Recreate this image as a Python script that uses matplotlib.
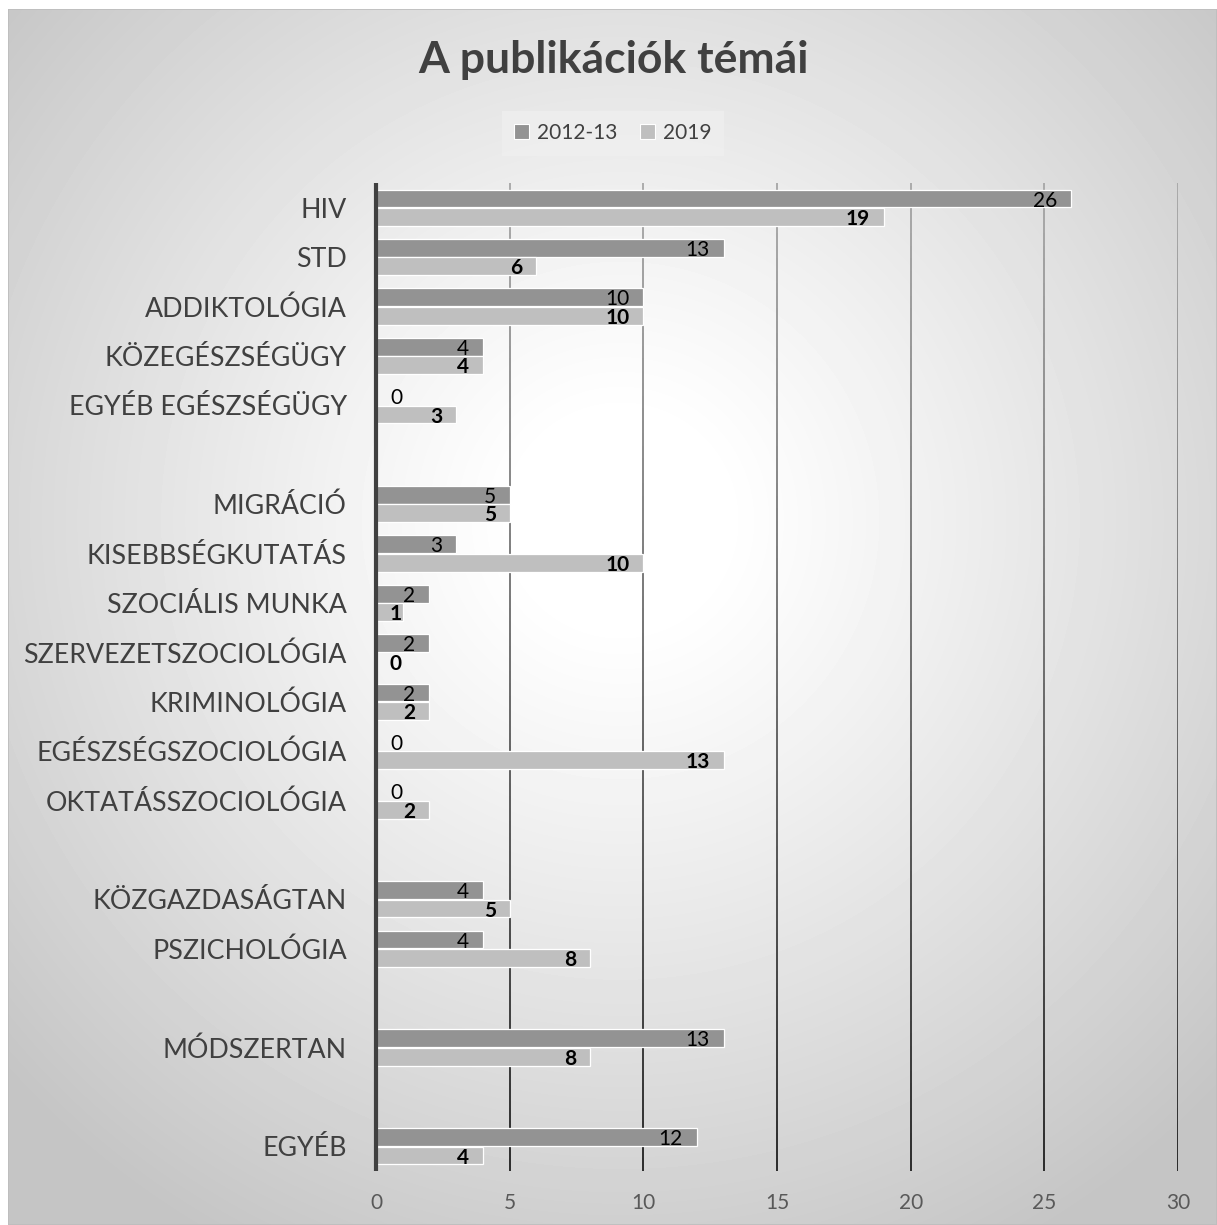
import numpy as np
import matplotlib.pyplot as plt
from matplotlib.patches import Patch, Rectangle
from matplotlib.collections import LineCollection

# topics, in display order; groups are separated by one empty row
categories = ['HIV', 'STD', 'ADDIKTOLÓGIA', 'KÖZEGÉSZSÉGÜGY', 'EGYÉB EGÉSZSÉGÜGY',
              'MIGRÁCIÓ', 'KISEBBSÉGKUTATÁS', 'SZOCIÁLIS MUNKA', 'SZERVEZETSZOCIOLÓGIA',
              'KRIMINOLÓGIA', 'EGÉSZSÉGSZOCIOLÓGIA', 'OKTATÁSSZOCIOLÓGIA',
              'KÖZGAZDASÁGTAN', 'PSZICHOLÓGIA',
              'MÓDSZERTAN',
              'EGYÉB']
group_sizes = [5, 7, 2, 1, 1]
counts_2012 = [26, 13, 10, 4, 0, 5, 3, 2, 2, 2, 0, 0, 4, 4, 13, 12]
counts_2019 = [19, 6, 10, 4, 3, 5, 10, 1, 0, 2, 13, 2, 5, 8, 8, 4]
series_names = ['2012-13', '2019']
x_ticks = [0, 5, 10, 15, 20, 25, 30]

plt.rcParams['font.family'] = ['Lato', 'DejaVu Sans']

W, H = 1217, 1225
fig = plt.figure(figsize=(W / 100, H / 100), dpi=100, facecolor='white')

# radial grey background
bg = fig.add_axes([8 / W, 0, (W - 8) / W, (H - 9) / H])
yy, xx = np.mgrid[9:H, 8:W]
d = np.hypot(xx - 620, yy - 520)
shade = 1 - 0.23 * np.clip((d - 100) / 730, 0, 1) ** 1.1
bg.imshow(shade, cmap='gray', vmin=0, vmax=1, extent=[0, 1, 0, 1], aspect='auto')
bg.add_patch(Rectangle((0, 0), 1, 1, fill=False, edgecolor='#bdbdbd', lw=1.2))
bg.set_xlim(0, 1)
bg.set_ylim(0, 1)
bg.axis('off')

ax = fig.add_axes([376 / W, 54 / H, 802 / W, 988 / H])
ax.patch.set_alpha(0)

pos = []
slot = 0
for n in group_sizes:
    pos.extend(range(slot, slot + n))
    slot += n + 1
pos = np.array(pos)
last = pos[-1]

h = 0.36
off = 0.185
bars_a = ax.barh(pos - off, counts_2012, height=h, color='#939393',
                 edgecolor='white', linewidth=0.9, zorder=3)
bars_b = ax.barh(pos + off, counts_2019, height=h, color='#bfbfbf',
                 edgecolor='white', linewidth=0.9, zorder=3)

# value labels at the inner end of each bar; very short bars get them next to the axis
for bars, vals, weight in [(bars_a, counts_2012, 'normal'), (bars_b, counts_2019, 'bold')]:
    for b, v in zip(bars, vals):
        yc = b.get_y() + b.get_height() / 2
        if v < 2:
            ax.annotate(str(v), (0, yc), xytext=(10, -1.5), textcoords='offset points',
                        ha='left', va='center', fontsize=15, fontweight=weight,
                        color='black', zorder=5)
        else:
            ax.annotate(str(v), (v, yc), xytext=(-10, -1.5), textcoords='offset points',
                        ha='right', va='center', fontsize=15, fontweight=weight,
                        color='black', zorder=5)

# vertical gridlines, fading from grey at the top to near black at the bottom
ys = np.linspace(-0.5, last + 0.5, 80)
segs, cols = [], []
for gx in x_ticks[1:]:
    for y0, y1 in zip(ys[:-1], ys[1:]):
        segs.append([(gx, y0), (gx, y1)])
        t = (y0 + 0.5) / (last + 1)
        g = 0.65 - 0.54 * t
        cols.append((g, g, g))
ax.add_collection(LineCollection(segs, colors=cols, linewidths=1.3, zorder=1))

ax.plot([0, 0], [-0.5, last + 0.5], color='#404040', lw=3, zorder=4,
        clip_on=False, solid_capstyle='butt')

ax.set_xlim(0, 30)
ax.set_ylim(last + 0.5, -0.5)
for s in ax.spines.values():
    s.set_visible(False)

ax.set_xticks(x_ticks)
ax.tick_params(axis='x', length=0, pad=16, labelsize=15, labelcolor='#595959')
ax.set_yticks(pos)
ax.set_yticklabels(categories)
ax.tick_params(axis='y', length=0, pad=21, labelsize=19.3, labelcolor='#404040')

fig.text(613 / W, 1 - 60 / H, 'A publikációk témái', ha='center', va='center',
         fontsize=32, fontweight='bold', color='#404040')

handles = [Patch(facecolor='#939393', edgecolor='white', lw=0.8),
           Patch(facecolor='#bfbfbf', edgecolor='white', lw=0.8)]
leg = fig.legend(handles, series_names, loc='center', bbox_to_anchor=(613 / W, 1 - 133 / H),
                 ncol=2, frameon=True, facecolor='#efefef', edgecolor='none',
                 fancybox=False, fontsize=15, labelcolor='#404040',
                 handlelength=0.7, handleheight=0.7, handletextpad=0.4,
                 columnspacing=1.1, borderpad=0.6)

fig.savefig('out.png', dpi=100)
